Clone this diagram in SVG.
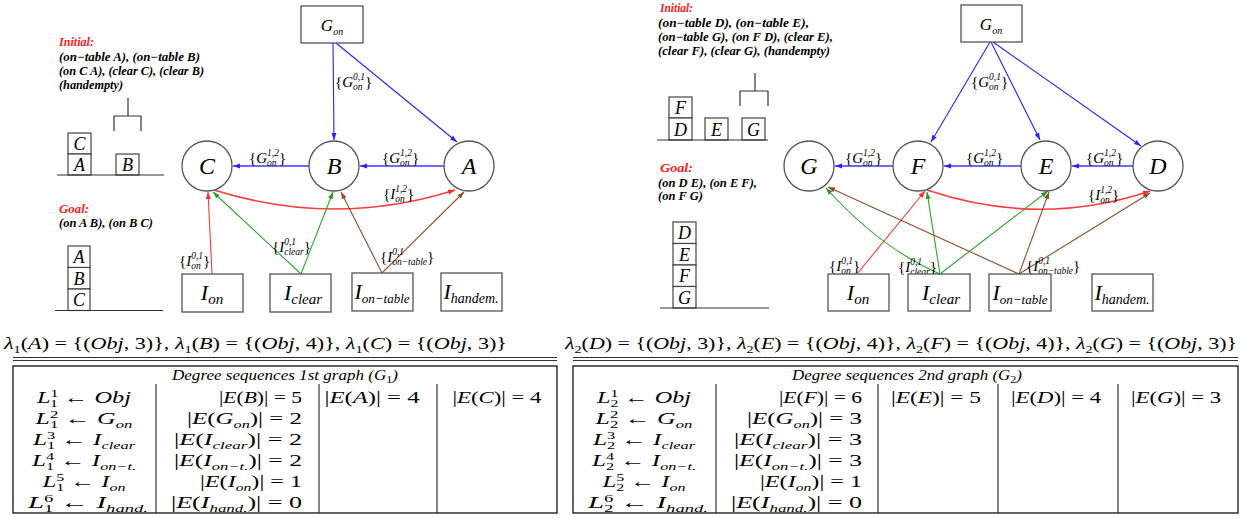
<svg xmlns="http://www.w3.org/2000/svg" width="1249" height="519" viewBox="0 0 1249 519">
<style>
text{font-family:"Liberation Serif","Times New Roman",serif;fill:#000}
.it{font-style:italic}
.box{fill:#fff;stroke:#555;stroke-width:1.3}
.circ{fill:#fff;stroke:#555;stroke-width:1.3}
.blk{fill:#fff;stroke:#444;stroke-width:1.2}
.ln{fill:none;stroke:#333;stroke-width:1.2}
.tb{fill:none;stroke:#222;stroke-width:1.4}
.nl{font-size:24px;font-style:italic;text-anchor:middle}
.bl{font-size:18px;font-style:italic;text-anchor:middle}
.st{font-size:12px;font-style:italic;font-weight:bold}
.red{fill:#ff2020}
.lb{font-size:15px}
.sc{font-size:9.5px;font-style:italic}
.b{stroke:#2424ff;stroke-width:1.1;fill:none}
.bt{stroke:#6b6bff;stroke-width:2.2;fill:none}
.r{stroke:#ff3a3a;stroke-width:1.1;fill:none}
.rc{stroke:#ff3a3a;stroke-width:1.6;fill:none}
.g{stroke:#30a530;stroke-width:1.1;fill:none}
.br{stroke:#8e4e2a;stroke-width:1.1;fill:none}
.m{font-size:17px}
.ms{font-size:11px}
.ttl{font-size:14px;font-style:italic;text-anchor:middle}
.c{text-anchor:middle}
.e{text-anchor:end}
</style>
<defs>
<marker id="ab" markerWidth="8" markerHeight="6" refX="7" refY="3" orient="auto" markerUnits="userSpaceOnUse"><path d="M0,0.5 L7,3 L0,5.5z" fill="#2424ff"/></marker>
<marker id="ar" markerWidth="8" markerHeight="6" refX="7" refY="3" orient="auto" markerUnits="userSpaceOnUse"><path d="M0,0.5 L7,3 L0,5.5z" fill="#ff2a2a"/></marker>
<marker id="ag" markerWidth="8" markerHeight="6" refX="7" refY="3" orient="auto" markerUnits="userSpaceOnUse"><path d="M0,0.5 L7,3 L0,5.5z" fill="#2a9a2a"/></marker>
<marker id="abr" markerWidth="8" markerHeight="6" refX="7" refY="3" orient="auto" markerUnits="userSpaceOnUse"><path d="M0,0.5 L7,3 L0,5.5z" fill="#8e4e2a"/></marker>
</defs>
<rect width="1249" height="519" fill="#fff"/>

<!-- Left problem text -->
<g id="left-initial">
<text class="st red" x="59" y="46" textLength="35" lengthAdjust="spacingAndGlyphs">Initial:</text>
<text class="st" x="59" y="61" textLength="141" lengthAdjust="spacingAndGlyphs">(on−table  A), (on−table B)</text>
<text class="st" x="59" y="75" textLength="145" lengthAdjust="spacingAndGlyphs">(on C A), (clear C), (clear B)</text>
<text class="st" x="59" y="89" textLength="64" lengthAdjust="spacingAndGlyphs">(handempty)</text>
<rect class="blk" x="68" y="133" width="23" height="21"/><text class="bl" x="79.5" y="150">C</text>
<rect class="blk" x="68" y="154" width="23" height="21"/><text class="bl" x="79.5" y="171">A</text>
<rect class="blk" x="116" y="154" width="23" height="21"/><text class="bl" x="127.5" y="171">B</text>
<path class="ln" d="M57,175 H164 M128,98 V116 M114,131 V116 H141 V131"/>
</g>
<g id="left-goal">
<text class="st red" x="59" y="213" textLength="30" lengthAdjust="spacingAndGlyphs">Goal:</text>
<text class="st" x="59" y="227" textLength="94" lengthAdjust="spacingAndGlyphs">(on A B), (on B C)</text>
<rect class="blk" x="68" y="246" width="22" height="21.5"/><text class="bl" x="79" y="263">A</text>
<rect class="blk" x="68" y="267.5" width="22" height="21.5"/><text class="bl" x="79" y="284.5">B</text>
<rect class="blk" x="68" y="289" width="22" height="21.5"/><text class="bl" x="79" y="306">C</text>
<path class="ln" d="M55,310.5 H163"/>
</g>

<!-- Right problem text -->
<g id="right-initial">
<text class="st red" x="660" y="12" textLength="33" lengthAdjust="spacingAndGlyphs">Initial:</text>
<text class="st" x="658" y="27" textLength="151" lengthAdjust="spacingAndGlyphs">(on−table  D), (on−table E),</text>
<text class="st" x="658" y="41" textLength="175" lengthAdjust="spacingAndGlyphs">(on−table G), (on F D), (clear E),</text>
<text class="st" x="658" y="55" textLength="172" lengthAdjust="spacingAndGlyphs">(clear F), (clear G), (handempty)</text>
<rect class="blk" x="669" y="97" width="23" height="21"/><text class="bl" x="680.5" y="114">F</text>
<rect class="blk" x="669" y="118" width="23" height="22"/><text class="bl" x="680.5" y="135.5">D</text>
<rect class="blk" x="705" y="118" width="23" height="22"/><text class="bl" x="716.5" y="135.5">E</text>
<rect class="blk" x="742" y="118" width="23" height="22"/><text class="bl" x="753.5" y="135.5">G</text>
<path class="ln" d="M657,140 H768 M755,73 V91 M740,106 V91 H768 V106"/>
</g>
<g id="right-goal">
<text class="st red" x="660" y="172" textLength="33" lengthAdjust="spacingAndGlyphs">Goal:</text>
<text class="st" x="658" y="187" textLength="99" lengthAdjust="spacingAndGlyphs">(on D E), (on E F),</text>
<text class="st" x="658" y="200" textLength="45" lengthAdjust="spacingAndGlyphs">(on F G)</text>
<rect class="blk" x="673" y="222" width="23" height="21.5"/><text class="bl" x="684.5" y="239">D</text>
<rect class="blk" x="673" y="243.5" width="23" height="21.5"/><text class="bl" x="684.5" y="260.5">E</text>
<rect class="blk" x="673" y="265" width="23" height="21.5"/><text class="bl" x="684.5" y="282">F</text>
<rect class="blk" x="673" y="286.5" width="23" height="21.5"/><text class="bl" x="684.5" y="303.5">G</text>
<path class="ln" d="M660,308 H769"/>
</g>

<!-- Connectors -->
<g id="connectors">
<path class="b" d="M333,43 L334,140" marker-end="url(#ab)"/>
<path class="b" d="M336,43 L457,142" marker-end="url(#ab)"/>
<path class="bt" d="M309,166 L233,166" marker-end="url(#ab)"/>
<path class="bt" d="M444,166 L360,166" marker-end="url(#ab)"/>
<path class="rc" d="M214,190 Q335,228 455,190" marker-end="url(#ar)"/>
<path class="r" d="M212,274 L208,192" marker-end="url(#ar)"/>
<path class="g" d="M301,274 L213,192" marker-end="url(#ag)"/>
<path class="g" d="M301,274 L333,192" marker-end="url(#ag)"/>
<path class="br" d="M382,273 L341,192" marker-end="url(#abr)"/>
<path class="br" d="M382,273 L464,192" marker-end="url(#abr)"/>

<path class="b" d="M990,42 L931,142" marker-end="url(#ab)"/>
<path class="b" d="M991,42 L1040,140" marker-end="url(#ab)"/>
<path class="b" d="M993,42 L1141,146" marker-end="url(#ab)"/>
<path class="bt" d="M1021,166 L944,166" marker-end="url(#ab)"/>
<path class="bt" d="M1133,166 L1072,166" marker-end="url(#ab)"/>
<path class="bt" d="M893,166 L835,166" marker-end="url(#ab)"/>
<path class="rc" d="M927,190 Q1040,228 1150,191" marker-end="url(#ar)"/>
<path class="r" d="M857,274 L925,191" marker-end="url(#ar)"/>
<path class="g" d="M940,274 Q880,248 826,188" marker-end="url(#ag)"/>
<path class="g" d="M940,274 L927,192" marker-end="url(#ag)"/>
<path class="g" d="M940,274 L1048,191" marker-end="url(#ag)"/>
<path class="br" d="M1019,274 L828,187" marker-end="url(#abr)"/>
<path class="br" d="M1019,274 L1049,192" marker-end="url(#abr)"/>
<path class="br" d="M1019,274 L1150,193" marker-end="url(#abr)"/>

<!-- edge labels left -->
<text class="lb" x="335" y="87">{<tspan class="it">G</tspan><tspan class="sc" dy="-7">0,1</tspan><tspan class="sc" dx="-11.9" dy="10">on</tspan><tspan dx="2.4" dy="-3">}</tspan></text>
<text class="lb" x="249" y="163">{<tspan class="it">G</tspan><tspan class="sc" dy="-7">1,2</tspan><tspan class="sc" dx="-11.9" dy="10">on</tspan><tspan dx="2.4" dy="-3">}</tspan></text>
<text class="lb" x="382" y="163">{<tspan class="it">G</tspan><tspan class="sc" dy="-7">1,2</tspan><tspan class="sc" dx="-11.9" dy="10">on</tspan><tspan dx="2.4" dy="-3">}</tspan></text>
<text class="lb" x="383" y="199">{<tspan class="it">I</tspan><tspan class="sc" dy="-7">1,2</tspan><tspan class="sc" dx="-11.9" dy="10">on</tspan><tspan dx="2.4" dy="-3">}</tspan></text>
<text class="lb" x="179" y="266">{<tspan class="it">I</tspan><tspan class="sc" dy="-7">0,1</tspan><tspan class="sc" dx="-11.9" dy="10">on</tspan><tspan dx="2.4" dy="-3">}</tspan></text>
<text class="lb" x="272" y="252">{<tspan class="it">I</tspan><tspan class="sc" dy="-7">0,1</tspan><tspan class="sc" dx="-11.9" dy="10">clear</tspan><tspan dy="-3">}</tspan></text>
<text class="lb" x="380" y="262">{<tspan class="it">I</tspan><tspan class="sc" dy="-7">0,1</tspan><tspan class="sc" dx="-11.9" dy="10">on−table</tspan><tspan dy="-3">}</tspan></text>
<!-- edge labels right -->
<text class="lb" x="971" y="87">{<tspan class="it">G</tspan><tspan class="sc" dy="-7">0,1</tspan><tspan class="sc" dx="-11.9" dy="10">on</tspan><tspan dx="2.4" dy="-3">}</tspan></text>
<text class="lb" x="845" y="163">{<tspan class="it">G</tspan><tspan class="sc" dy="-7">1,2</tspan><tspan class="sc" dx="-11.9" dy="10">on</tspan><tspan dx="2.4" dy="-3">}</tspan></text>
<text class="lb" x="966" y="163">{<tspan class="it">G</tspan><tspan class="sc" dy="-7">1,2</tspan><tspan class="sc" dx="-11.9" dy="10">on</tspan><tspan dx="2.4" dy="-3">}</tspan></text>
<text class="lb" x="1086" y="163">{<tspan class="it">G</tspan><tspan class="sc" dy="-7">1,2</tspan><tspan class="sc" dx="-11.9" dy="10">on</tspan><tspan dx="2.4" dy="-3">}</tspan></text>
<text class="lb" x="1088" y="200">{<tspan class="it">I</tspan><tspan class="sc" dy="-7">1,2</tspan><tspan class="sc" dx="-11.9" dy="10">on</tspan><tspan dx="2.4" dy="-3">}</tspan></text>
<text class="lb" x="829" y="271">{<tspan class="it">I</tspan><tspan class="sc" dy="-7">0,1</tspan><tspan class="sc" dx="-11.9" dy="10">on</tspan><tspan dx="2.4" dy="-3">}</tspan></text>
<text class="lb" x="898" y="272">{<tspan class="it">I</tspan><tspan class="sc" dy="-7">0,1</tspan><tspan class="sc" dx="-11.9" dy="10">clear</tspan><tspan dy="-3">}</tspan></text>
<text class="lb" x="1026" y="271">{<tspan class="it">I</tspan><tspan class="sc" dy="-7">0,1</tspan><tspan class="sc" dx="-11.9" dy="10">on−table</tspan><tspan dy="-3">}</tspan></text>
</g>

<!-- Left graph nodes -->
<g id="L-Gon"><rect class="box" x="301" y="6" width="62" height="37"/><text class="c it" x="332" y="31" font-size="17">G<tspan font-size="10" dy="4">on</tspan></text></g>
<g id="L-C"><circle class="circ" cx="207" cy="166" r="25"/><text class="nl" x="207" y="174">C</text></g>
<g id="L-B"><circle class="circ" cx="334" cy="166" r="25"/><text class="nl" x="334" y="174">B</text></g>
<g id="L-A"><circle class="circ" cx="469" cy="166" r="25"/><text class="nl" x="469" y="174">A</text></g>
<g id="L-Ion"><rect class="box" x="182" y="274" width="61" height="38"/><text class="c it" x="212" y="300" font-size="22">I<tspan font-size="15" dy="4">on</tspan></text></g>
<g id="L-Iclear"><rect class="box" x="270" y="274" width="61" height="38"/><text class="c it" x="303" y="300" font-size="22">I<tspan font-size="15" dy="4">clear</tspan></text></g>
<g id="L-Iontable"><rect class="box" x="352" y="273" width="61" height="38"/><text class="c it" x="382" y="299" font-size="22">I<tspan font-size="13" dy="4">on−table</tspan></text></g>
<g id="L-Ihandem"><rect class="box" x="441" y="273" width="61" height="38"/><text class="c it" x="471" y="299" font-size="22">I<tspan font-size="14" dy="4">handem.</tspan></text></g>

<!-- Right graph nodes -->
<g id="R-Gon"><rect class="box" x="961" y="5" width="61" height="37"/><text class="c it" x="991" y="30" font-size="17">G<tspan font-size="10" dy="4">on</tspan></text></g>
<g id="R-G"><circle class="circ" cx="809" cy="166" r="25"/><text class="nl" x="809" y="174">G</text></g>
<g id="R-F"><circle class="circ" cx="918" cy="166" r="25"/><text class="nl" x="918" y="174">F</text></g>
<g id="R-E"><circle class="circ" cx="1046" cy="166" r="25"/><text class="nl" x="1046" y="174">E</text></g>
<g id="R-D"><circle class="circ" cx="1158" cy="166" r="25"/><text class="nl" x="1158" y="174">D</text></g>
<g id="R-Ion"><rect class="box" x="828" y="274" width="61" height="37"/><text class="c it" x="858" y="300" font-size="22">I<tspan font-size="15" dy="4">on</tspan></text></g>
<g id="R-Iclear"><rect class="box" x="908" y="274" width="62" height="37"/><text class="c it" x="941" y="300" font-size="22">I<tspan font-size="15" dy="4">clear</tspan></text></g>
<g id="R-Iontable"><rect class="box" x="989" y="274" width="62" height="37"/><text class="c it" x="1020" y="300" font-size="22">I<tspan font-size="13" dy="4">on−table</tspan></text></g>
<g id="R-Ihandem"><rect class="box" x="1092" y="274" width="61" height="37"/><text class="c it" x="1122" y="300" font-size="22">I<tspan font-size="14" dy="4">handem.</tspan></text></g>

<!-- Lambda lines -->
<g id="lambda-left">
<text class="m" x="4" y="349" textLength="503" lengthAdjust="spacingAndGlyphs"><tspan class="it">λ</tspan><tspan class="ms" dy="4">1</tspan><tspan dy="-4">(</tspan><tspan class="it">A</tspan>) = {(<tspan class="it">Obj</tspan>, 3)}, <tspan class="it">λ</tspan><tspan class="ms" dy="4">1</tspan><tspan dy="-4">(</tspan><tspan class="it">B</tspan>) = {(<tspan class="it">Obj</tspan>, 4)}, <tspan class="it">λ</tspan><tspan class="ms" dy="4">1</tspan><tspan dy="-4">(</tspan><tspan class="it">C</tspan>) = {(<tspan class="it">Obj</tspan>, 3)}</text>
<path class="ln" d="M13,357.5 H557 M13,360.5 H557"/>
</g>
<g id="lambda-right">
<text class="m" x="565" y="349" textLength="672" lengthAdjust="spacingAndGlyphs"><tspan class="it">λ</tspan><tspan class="ms" dy="4">2</tspan><tspan dy="-4">(</tspan><tspan class="it">D</tspan>) = {(<tspan class="it">Obj</tspan>, 3)}, <tspan class="it">λ</tspan><tspan class="ms" dy="4">2</tspan><tspan dy="-4">(</tspan><tspan class="it">E</tspan>) = {(<tspan class="it">Obj</tspan>, 4)}, <tspan class="it">λ</tspan><tspan class="ms" dy="4">2</tspan><tspan dy="-4">(</tspan><tspan class="it">F</tspan>) = {(<tspan class="it">Obj</tspan>, 4)}, <tspan class="it">λ</tspan><tspan class="ms" dy="4">2</tspan><tspan dy="-4">(</tspan><tspan class="it">G</tspan>) = {(<tspan class="it">Obj</tspan>, 3)}</text>
<path class="ln" d="M573,357.5 H1238 M573,360.5 H1238"/>
</g>

<!-- Left table -->
<g id="table-left">
<rect class="tb" x="13" y="366" width="544" height="147"/>
<path class="ln" d="M156,384 V513 M319,384 V513 M437,384 V513"/>
<text class="ttl" x="285" y="380" textLength="226" lengthAdjust="spacingAndGlyphs">Degree sequences 1st graph (G<tspan font-size="10" font-style="normal" dy="3">1</tspan><tspan dy="-3">)</tspan></text>
<text class="m c" x="84" y="403" textLength="94" lengthAdjust="spacingAndGlyphs"><tspan class="it">L</tspan><tspan class="ms" dy="-6">1</tspan><tspan class="ms" dx="-5.5" dy="9.5">1</tspan><tspan dy="-3.5"> ← </tspan><tspan class="it">Obj</tspan></text>
<text class="m c" x="84" y="424" textLength="97" lengthAdjust="spacingAndGlyphs"><tspan class="it">L</tspan><tspan class="ms" dy="-6">2</tspan><tspan class="ms" dx="-5.5" dy="9.5">1</tspan><tspan dy="-3.5"> ← </tspan><tspan class="it">G</tspan><tspan class="ms it" dy="3.5">on</tspan></text>
<text class="m c" x="84" y="445" textLength="102" lengthAdjust="spacingAndGlyphs"><tspan class="it">L</tspan><tspan class="ms" dy="-6">3</tspan><tspan class="ms" dx="-5.5" dy="9.5">1</tspan><tspan dy="-3.5"> ← </tspan><tspan class="it">I</tspan><tspan class="ms it" dy="3.5">clear</tspan></text>
<text class="m c" x="84" y="466" textLength="104" lengthAdjust="spacingAndGlyphs"><tspan class="it">L</tspan><tspan class="ms" dy="-6">4</tspan><tspan class="ms" dx="-5.5" dy="9.5">1</tspan><tspan dy="-3.5"> ← </tspan><tspan class="it">I</tspan><tspan class="ms it" dy="3.5">on−t.</tspan></text>
<text class="m c" x="84" y="487" textLength="83" lengthAdjust="spacingAndGlyphs"><tspan class="it">L</tspan><tspan class="ms" dy="-6">5</tspan><tspan class="ms" dx="-5.5" dy="9.5">1</tspan><tspan dy="-3.5"> ← </tspan><tspan class="it">I</tspan><tspan class="ms it" dy="3.5">on</tspan></text>
<text class="m c" x="88" y="508" textLength="120" lengthAdjust="spacingAndGlyphs"><tspan class="it">L</tspan><tspan class="ms" dy="-6">6</tspan><tspan class="ms" dx="-5.5" dy="9.5">1</tspan><tspan dy="-3.5"> ← </tspan><tspan class="it">I</tspan><tspan class="ms it" dy="3.5">hand.</tspan></text>
<text class="m e" x="302" y="403" textLength="83" lengthAdjust="spacingAndGlyphs">|<tspan class="it">E</tspan>(<tspan class="it">B</tspan>)| = 5</text>
<text class="m e" x="302" y="424" textLength="115" lengthAdjust="spacingAndGlyphs">|<tspan class="it">E</tspan>(<tspan class="it">G</tspan><tspan class="ms it" dy="3.5">on</tspan><tspan dy="-3.5">)| = 2</tspan></text>
<text class="m e" x="302" y="445" textLength="128" lengthAdjust="spacingAndGlyphs">|<tspan class="it">E</tspan>(<tspan class="it">I</tspan><tspan class="ms it" dy="3.5">clear</tspan><tspan dy="-3.5">)| = 2</tspan></text>
<text class="m e" x="302" y="466" textLength="128" lengthAdjust="spacingAndGlyphs">|<tspan class="it">E</tspan>(<tspan class="it">I</tspan><tspan class="ms it" dy="3.5">on−t.</tspan><tspan dy="-3.5">)| = 2</tspan></text>
<text class="m e" x="302" y="487" textLength="102" lengthAdjust="spacingAndGlyphs">|<tspan class="it">E</tspan>(<tspan class="it">I</tspan><tspan class="ms it" dy="3.5">on</tspan><tspan dy="-3.5">)| = 1</tspan></text>
<text class="m e" x="302" y="508" textLength="131" lengthAdjust="spacingAndGlyphs">|<tspan class="it">E</tspan>(<tspan class="it">I</tspan><tspan class="ms it" dy="3.5">hand.</tspan><tspan dy="-3.5">)| = 0</tspan></text>
<text class="m c" x="372" y="403" textLength="95" lengthAdjust="spacingAndGlyphs">|<tspan class="it">E</tspan>(<tspan class="it">A</tspan>)| = 4</text>
<text class="m c" x="497" y="403" textLength="89" lengthAdjust="spacingAndGlyphs">|<tspan class="it">E</tspan>(<tspan class="it">C</tspan>)| = 4</text>
</g>

<!-- Right table -->
<g id="table-right">
<rect class="tb" x="573" y="366" width="665" height="147"/>
<path class="ln" d="M716,384 V513 M878,384 V513 M998,384 V513 M1118,384 V513"/>
<text class="ttl" x="907" y="380" textLength="230" lengthAdjust="spacingAndGlyphs">Degree sequences 2nd graph (G<tspan font-size="10" font-style="normal" dy="3">2</tspan><tspan dy="-3">)</tspan></text>
<text class="m c" x="644" y="403" textLength="94" lengthAdjust="spacingAndGlyphs"><tspan class="it">L</tspan><tspan class="ms" dy="-6">1</tspan><tspan class="ms" dx="-5.5" dy="9.5">2</tspan><tspan dy="-3.5"> ← </tspan><tspan class="it">Obj</tspan></text>
<text class="m c" x="644" y="424" textLength="97" lengthAdjust="spacingAndGlyphs"><tspan class="it">L</tspan><tspan class="ms" dy="-6">2</tspan><tspan class="ms" dx="-5.5" dy="9.5">2</tspan><tspan dy="-3.5"> ← </tspan><tspan class="it">G</tspan><tspan class="ms it" dy="3.5">on</tspan></text>
<text class="m c" x="644" y="445" textLength="102" lengthAdjust="spacingAndGlyphs"><tspan class="it">L</tspan><tspan class="ms" dy="-6">3</tspan><tspan class="ms" dx="-5.5" dy="9.5">2</tspan><tspan dy="-3.5"> ← </tspan><tspan class="it">I</tspan><tspan class="ms it" dy="3.5">clear</tspan></text>
<text class="m c" x="644" y="466" textLength="104" lengthAdjust="spacingAndGlyphs"><tspan class="it">L</tspan><tspan class="ms" dy="-6">4</tspan><tspan class="ms" dx="-5.5" dy="9.5">2</tspan><tspan dy="-3.5"> ← </tspan><tspan class="it">I</tspan><tspan class="ms it" dy="3.5">on−t.</tspan></text>
<text class="m c" x="644" y="487" textLength="83" lengthAdjust="spacingAndGlyphs"><tspan class="it">L</tspan><tspan class="ms" dy="-6">5</tspan><tspan class="ms" dx="-5.5" dy="9.5">2</tspan><tspan dy="-3.5"> ← </tspan><tspan class="it">I</tspan><tspan class="ms it" dy="3.5">on</tspan></text>
<text class="m c" x="648" y="508" textLength="120" lengthAdjust="spacingAndGlyphs"><tspan class="it">L</tspan><tspan class="ms" dy="-6">6</tspan><tspan class="ms" dx="-5.5" dy="9.5">2</tspan><tspan dy="-3.5"> ← </tspan><tspan class="it">I</tspan><tspan class="ms it" dy="3.5">hand.</tspan></text>
<text class="m e" x="862" y="403" textLength="83" lengthAdjust="spacingAndGlyphs">|<tspan class="it">E</tspan>(<tspan class="it">F</tspan>)| = 6</text>
<text class="m e" x="862" y="424" textLength="115" lengthAdjust="spacingAndGlyphs">|<tspan class="it">E</tspan>(<tspan class="it">G</tspan><tspan class="ms it" dy="3.5">on</tspan><tspan dy="-3.5">)| = 3</tspan></text>
<text class="m e" x="862" y="445" textLength="128" lengthAdjust="spacingAndGlyphs">|<tspan class="it">E</tspan>(<tspan class="it">I</tspan><tspan class="ms it" dy="3.5">clear</tspan><tspan dy="-3.5">)| = 3</tspan></text>
<text class="m e" x="862" y="466" textLength="128" lengthAdjust="spacingAndGlyphs">|<tspan class="it">E</tspan>(<tspan class="it">I</tspan><tspan class="ms it" dy="3.5">on−t.</tspan><tspan dy="-3.5">)| = 3</tspan></text>
<text class="m e" x="862" y="487" textLength="102" lengthAdjust="spacingAndGlyphs">|<tspan class="it">E</tspan>(<tspan class="it">I</tspan><tspan class="ms it" dy="3.5">on</tspan><tspan dy="-3.5">)| = 1</tspan></text>
<text class="m e" x="862" y="508" textLength="131" lengthAdjust="spacingAndGlyphs">|<tspan class="it">E</tspan>(<tspan class="it">I</tspan><tspan class="ms it" dy="3.5">hand.</tspan><tspan dy="-3.5">)| = 0</tspan></text>
<text class="m c" x="936" y="403" textLength="90" lengthAdjust="spacingAndGlyphs">|<tspan class="it">E</tspan>(<tspan class="it">E</tspan>)| = 5</text>
<text class="m c" x="1056" y="403" textLength="90" lengthAdjust="spacingAndGlyphs">|<tspan class="it">E</tspan>(<tspan class="it">D</tspan>)| = 4</text>
<text class="m c" x="1176" y="403" textLength="90" lengthAdjust="spacingAndGlyphs">|<tspan class="it">E</tspan>(<tspan class="it">G</tspan>)| = 3</text>
</g>
</svg>
